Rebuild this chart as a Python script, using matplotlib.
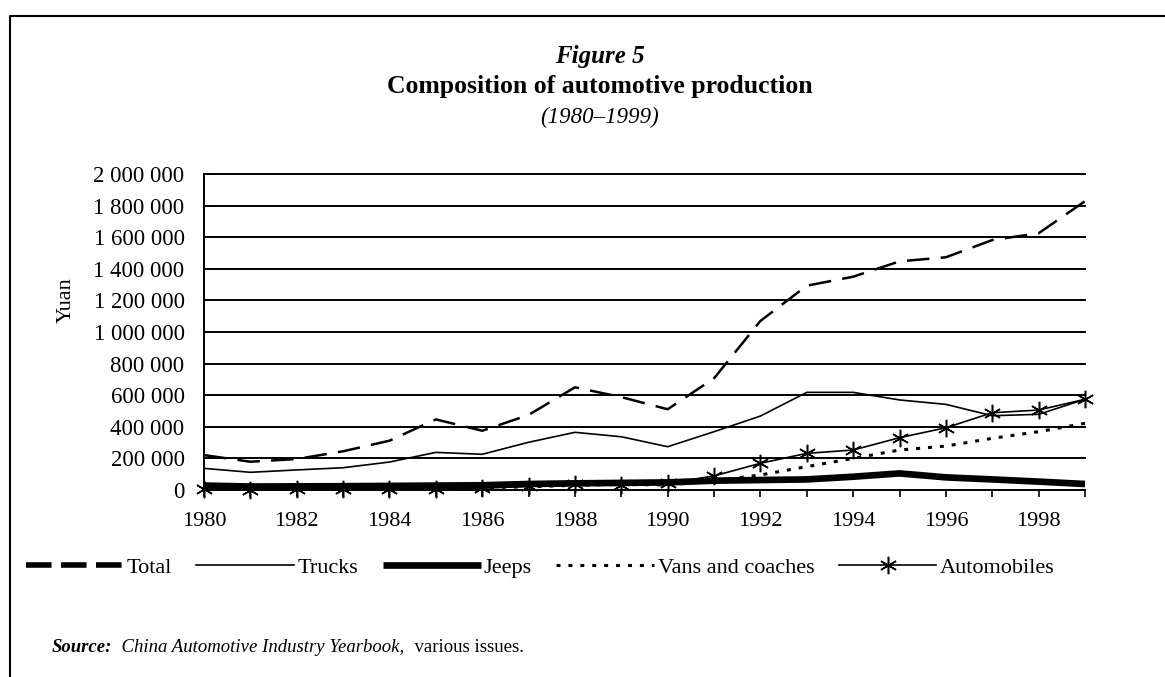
import numpy as np
import matplotlib.pyplot as plt
from matplotlib.lines import Line2D

plt.rcParams['font.family'] = ['Liberation Serif', 'DejaVu Serif']

years = np.arange(1980, 2000)

# produccion (unidades)
total = [221000, 179000, 196000, 245000, 312000, 447000, 375000, 475000, 650000, 588000,
         511000, 707000, 1070000, 1293000, 1350000, 1447000, 1473000, 1582000, 1625000, 1828000]
trucks = [137000, 112000, 127000, 141000, 177000, 238000, 226000, 302000, 365000, 337000,
          274000, 369000, 468000, 618000, 618000, 570000, 542000, 470000, 479000, 574000]
jeeps = [28000, 22000, 23000, 24000, 26000, 28000, 30000, 38000, 42000, 45000,
         48000, 59000, 63000, 67000, 84000, 105000, 80000, 67000, 53000, 38000]
vans = [8000, 6000, 7000, 9000, 10000, 12000, 15000, 20000, 30000, 35000,
        32000, 58000, 95000, 148000, 200000, 253000, 278000, 327000, 369000, 422000]
autos = [5000, 3000, 4000, 6000, 6000, 5000, 12000, 23000, 37000, 29000,
         42000, 89000, 169000, 232000, 253000, 331000, 394000, 489000, 506000, 574000]

ytick_vals = np.arange(0, 2000001, 200000)
xtick_labels = [str(y) if y % 2 == 0 else '' for y in years]

fig = plt.figure(figsize=(11.65, 6.77), dpi=100)
ax = fig.add_axes([204/1165, 1-490/677, (1085-204)/1165, (490-174)/677])

for yv in ytick_vals[1:]:
    ax.axhline(yv, color='black', lw=1.4, zorder=1)

ax.plot(years, total, color='black', lw=1.8, ls=(0, (9, 4.5)), label='Total', zorder=3)
ax.plot(years, trucks, color='black', lw=1.2, label='Trucks', zorder=3)
ax.plot(years, jeeps, color='black', lw=4.8, label='Jeeps', zorder=3, solid_capstyle='butt')
ax.plot(years, vans, color='black', lw=2.2, ls=(0, (1.3, 2.6)), label='Vans and coaches', zorder=3)
ax.plot(years, autos, color='black', lw=1.2, marker=(6, 2, 0), ms=12.5, mew=1.1,
        label='Automobiles', zorder=4)

ax.set_xlim(1980, 1999)
ax.set_ylim(0, 2000000)
ax.set_xticks(years)
ax.set_xticklabels(xtick_labels)
ax.set_yticks(ytick_vals)
ax.set_yticklabels(['{:,}'.format(v).replace(',', ' ') for v in ytick_vals])
ax.tick_params(axis='x', direction='out', length=5, width=1.2, pad=11, labelsize=16)
ax.tick_params(axis='y', direction='in', length=5, width=1.2, pad=14, labelsize=16.5)
for s in ['top', 'right']:
    ax.spines[s].set_visible(False)
for s in ['left', 'bottom']:
    ax.spines[s].set_linewidth(1.4)
for l in ax.get_lines():
    l.set_clip_on(False)

fig.text(66/1165, 1-300/677, 'Yuan', rotation=90, ha='center', va='center', fontsize=16)

# titulos
fig.text(600/1165, 1-56/677, 'Figure 5', ha='center', va='center', fontsize=18,
         fontweight='bold', fontstyle='italic')
fig.text(600/1165, 1-87/677, 'Composition of automotive production', ha='center', va='center',
         fontsize=18.5, fontweight='bold')
fig.text(600/1165, 1-117/677, '(1980\u20131999)', ha='center', va='center', fontsize=16.5,
         fontstyle='italic')

# leyenda
handles, labels = ax.get_legend_handles_labels()
handles[0] = Line2D([], [], color='black', lw=4, ls=(0, (4.6, 1.7)))
fig.legend(handles, labels, loc='center', bbox_to_anchor=(540/1165, 1-568/677), ncol=5,
           frameon=False, fontsize=16, handlelength=4.4, handletextpad=0.15,
           columnspacing=1.1)

# fuente
fig.canvas.draw()
r = fig.canvas.get_renderer()
x0 = 52
parts = [('Source:', 'bold', 'italic'), ('  China Automotive Industry Yearbook,', 'normal', 'italic'),
         ('  various issues.', 'normal', 'normal')]
for txt, w, st in parts:
    t = fig.text(x0/1165, 1-648/677, txt, ha='left', va='center', fontsize=13.5,
                 fontweight=w, fontstyle=st)
    bb = t.get_window_extent(r)
    x0 = bb.x1

# marco
fig.add_artist(Line2D([10/1165, 10/1165, 1.0], [0.0, 1-16/677, 1-16/677],
                      transform=fig.transFigure, color='black', lw=1.5))

fig.savefig('out.png', dpi=100)
